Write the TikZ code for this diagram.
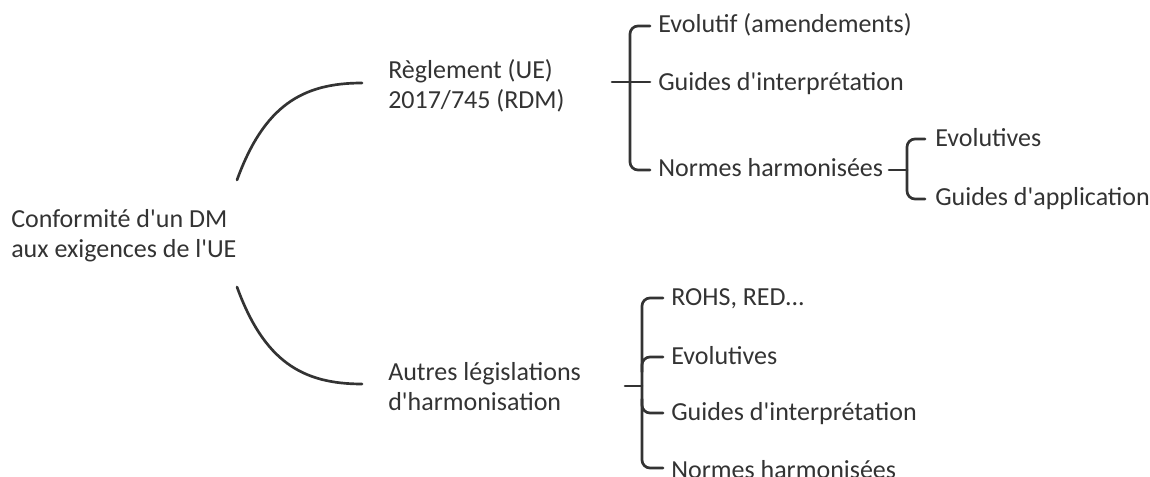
\documentclass[tikz,border=0pt]{standalone}
\usepackage{fontspec}
\setmainfont{Carlito}
\definecolor{inkgray}{HTML}{333333}
\newcommand{\apos}{\textquotesingle}
\begin{document}
\begin{tikzpicture}[x=0.75pt,y=-0.75pt,
        leaf/.style={inner sep=0pt,text=inkgray,font=\fontsize{19.5}{22.5}\selectfont,align=left},
        link/.style={draw=inkgray,line width=2pt,line cap=round},
        brace/.style={link,rounded corners=6pt}]
        \useasboundingbox (0,0) rectangle (1150,477);
        \clip (0,0) rectangle (1150,477);
        % main branches
        \node[leaf,anchor=west] (root) at (11,236) {Conformité d\apos un DM\\aux exigences de l\apos UE};
        \node[leaf,anchor=west] (reg) at (388,86) {Règlement (UE)\\2017/745 (RDM)};
        \node[leaf,anchor=west] (aut) at (388,387) {Autres législations\\d\apos harmonisation};
        \coordinate (rootup) at (237,180);
        \coordinate (rootdown) at (237,287);
        \coordinate (regin) at (362,83);
        \coordinate (autin) at (362,384);
        \draw[link] (rootup) .. controls (264,106) and (302,83) .. (regin);
        \draw[link] (rootdown) .. controls (264,361) and (302,384) .. (autin);
        % children of reg
        \node[leaf,anchor=base west] (evo1) at (658,33) {Evolutif (amendements)};
        \node[leaf,anchor=base west] (guide1) at (658,91) {Guides d\apos interprétation};
        \node[leaf,anchor=base west] (normes1) at (658,177) {Normes harmonisées};
        \draw[link] (612,82) -- (650,82);
        \draw[brace] (650,26) -- (630,26) -- (630,170) -- (650,170);
        % children of normes1
        \node[leaf,anchor=base west] (evo2) at (935,147) {Evolutives};
        \node[leaf,anchor=base west] (appl2) at (935,206) {Guides d\apos application};
        \draw[link] (889,170) -- (907,170);
        \draw[brace] (925,139) -- (907,139) -- (907,199) -- (925,199);
        % children of aut
        \node[leaf,anchor=base west] (rohs3) at (671,306) {ROHS, RED...};
        \node[leaf,anchor=base west] (evo3) at (671,364) {Evolutives};
        \node[leaf,anchor=base west] (guide3) at (671,420) {Guides d\apos interprétation};
        \node[leaf,anchor=base west] (normes3) at (671,478) {Normes harmonisées};
        \draw[link] (625,386) -- (642,386);
        \draw[brace] (663,298) -- (642,298) -- (642,468) -- (663,468);
        \draw[brace] (642,372) -- (642,357) -- (663,357);
        \draw[brace] (642,399) -- (642,413) -- (663,413);
\end{tikzpicture}
\end{document}
